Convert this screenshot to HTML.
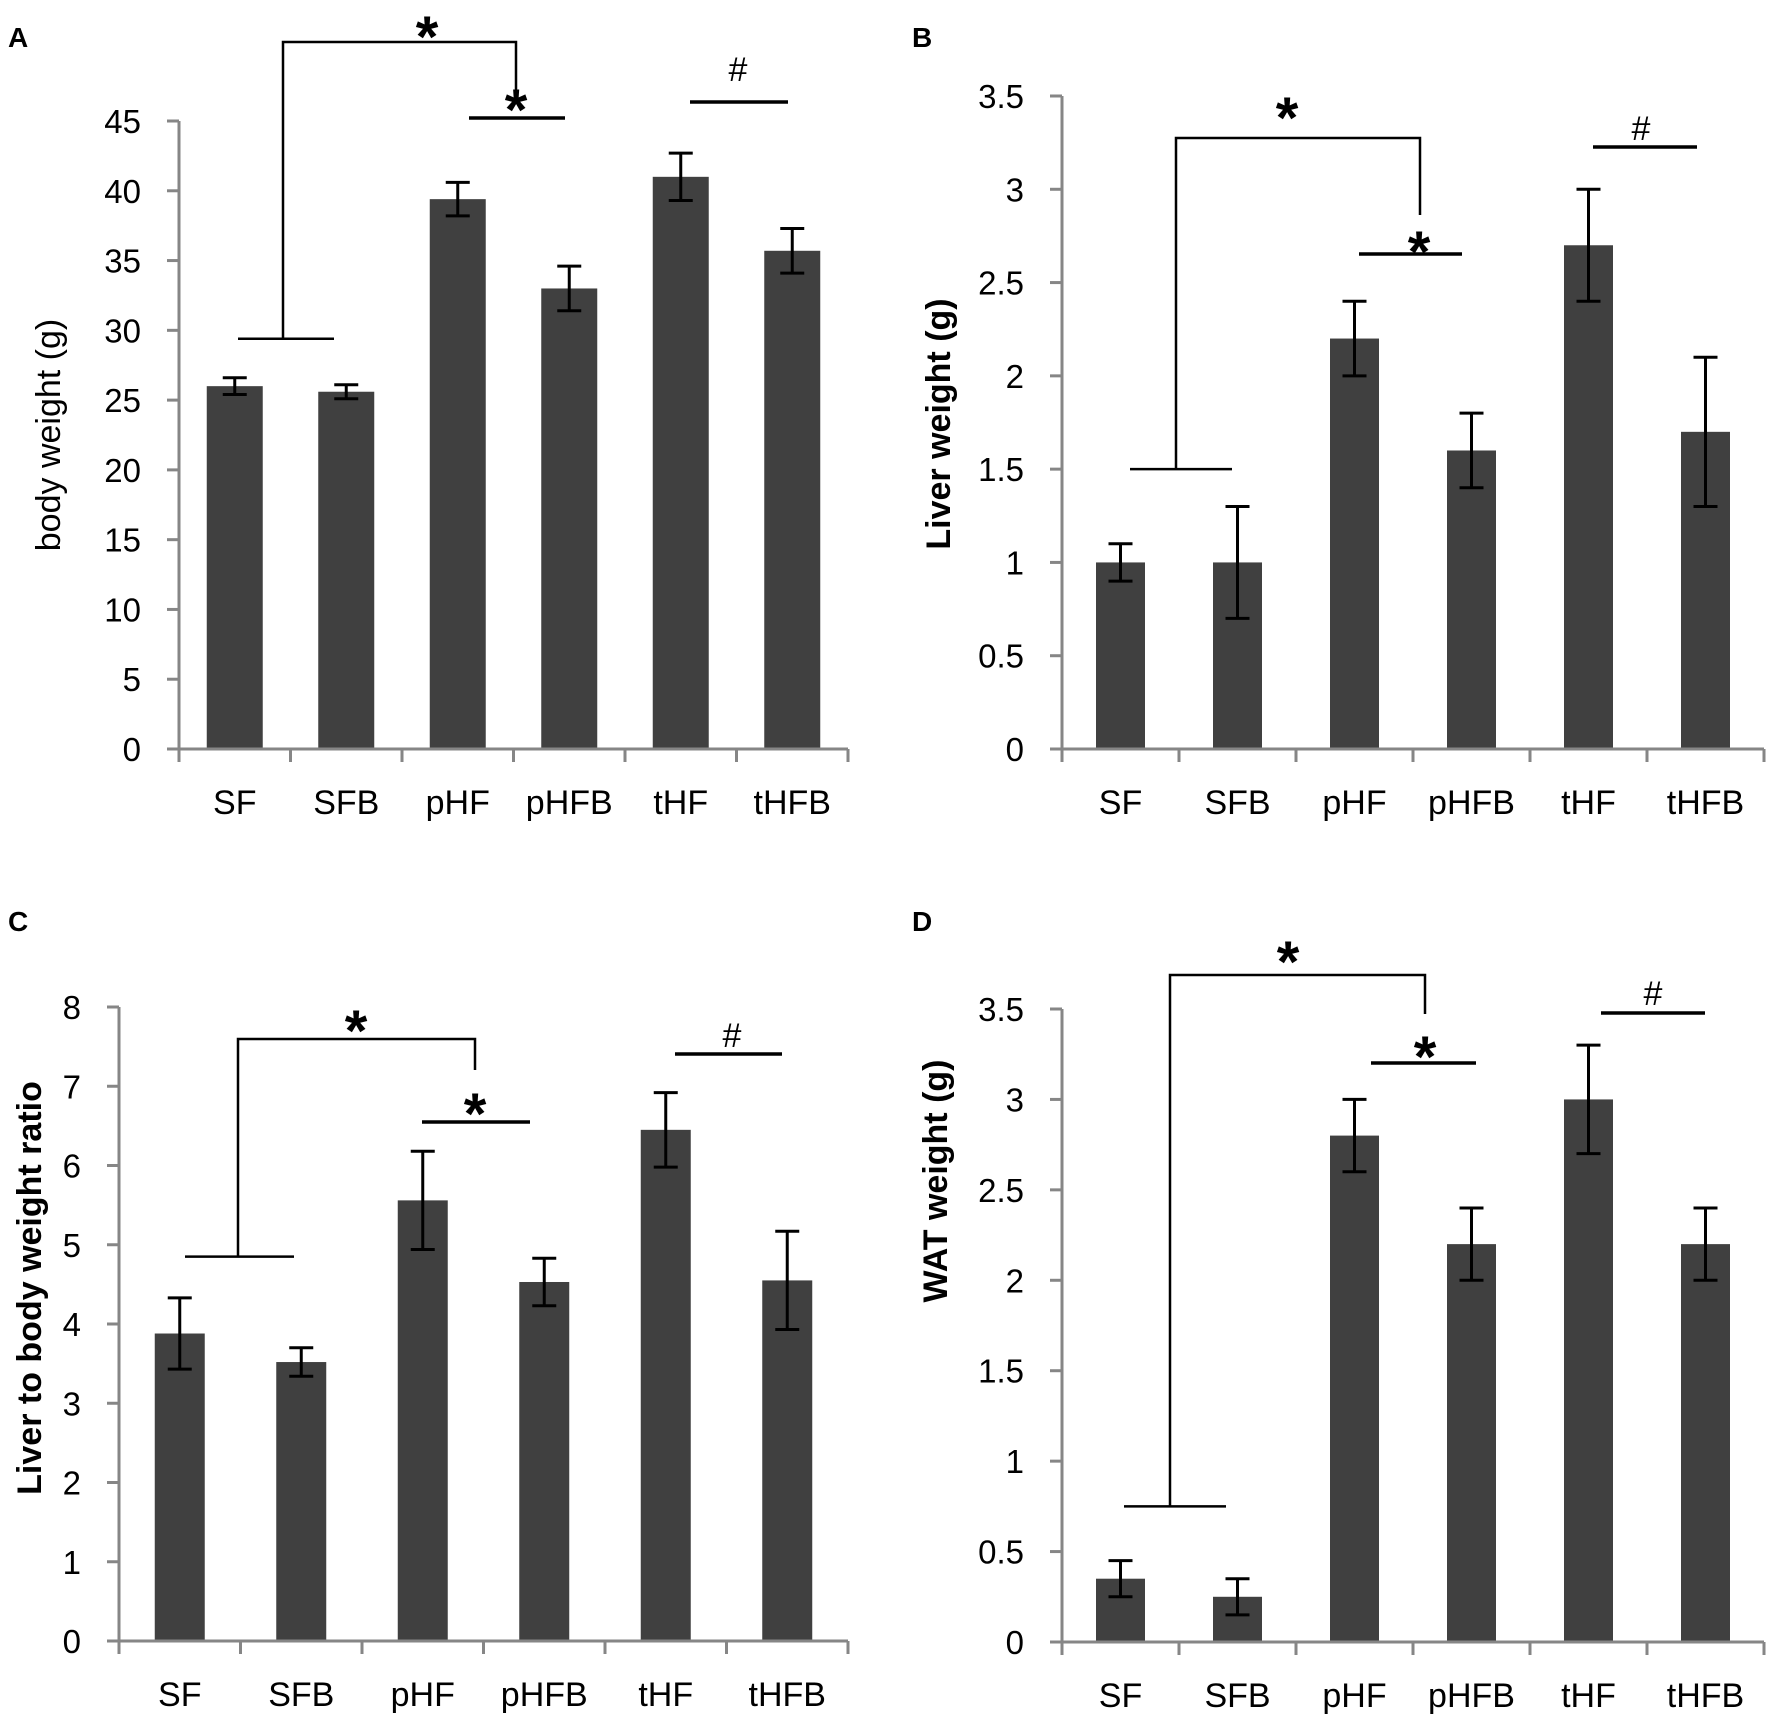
<!DOCTYPE html>
<html><head><meta charset="utf-8"><style>
html,body{margin:0;padding:0;background:#fff;}
svg{display:block;}
text{font-family:"Liberation Sans",sans-serif;fill:#000;}
</style></head><body>
<svg id="fig" width="1772" height="1720" viewBox="0 0 1772 1720" xmlns="http://www.w3.org/2000/svg"></svg>
<script>
const categories = ["SF","SFB","pHF","pHFB","tHF","tHFB"];
const valuesA = [26, 25.6, 39.4, 33, 41, 35.7];
const errorsA = [0.6, 0.5, 1.2, 1.6, 1.7, 1.6];
const ticksA = [0,5,10,15,20,25,30,35,40,45];
const valuesB = [1, 1, 2.2, 1.6, 2.7, 1.7];
const errorsB = [0.1, 0.3, 0.2, 0.2, 0.3, 0.4];
const ticksB = [0,0.5,1,1.5,2,2.5,3,3.5];
const valuesC = [3.88, 3.52, 5.56, 4.53, 6.45, 4.55];
const errorsC = [0.45, 0.18, 0.62, 0.3, 0.47, 0.62];
const ticksC = [0,1,2,3,4,5,6,7,8];
const valuesD = [0.35, 0.25, 2.8, 2.2, 3.0, 2.2];
const errorsD = [0.1, 0.1, 0.2, 0.2, 0.3, 0.2];
const ticksD = [0,0.5,1,1.5,2,2.5,3,3.5];

const NS = "http://www.w3.org/2000/svg";
const svg = document.getElementById("fig");
function mk(tag, attrs, parent, txt){
  const e = document.createElementNS(NS, tag);
  for (const k in attrs) e.setAttribute(k, attrs[k]);
  if (txt !== undefined) e.textContent = txt;
  (parent || svg).appendChild(e);
  return e;
}

function panel(p){
  const g = mk("g", {});
  
  
  const max = p.ticks[p.ticks.length-1];
  const y = v => p.y0 - (v / max) * (p.y0 - p.yTop);
  const cw = (p.x1 - p.x0) / p.cats.length;
  const xc = i => p.x0 + cw * (i + 0.5);

  const lab = mk("text", {x:p.lx, y:p.ly, "font-size":28, "font-weight":"bold"}, g, p.id);
  
  

  p.vals.forEach((v,i)=>{
    const r = mk("rect", {x:xc(i)-p.bw/2, y:y(v), width:p.bw, height:p.y0-y(v), fill:"#404040"}, g);
    
    
  });
  const ya = mk("line", {x1:p.x0, y1:p.yTop, x2:p.x0, y2:p.y0+13, stroke:"#868686", "stroke-width":3}, g);
  
  
  const xa = mk("line", {x1:p.x0-12, y1:p.y0, x2:p.x1, y2:p.y0, stroke:"#868686", "stroke-width":3}, g);
  
  
  p.ticks.forEach(t=>{
    mk("line", {x1:p.x0-12, y1:y(t), x2:p.x0, y2:y(t), stroke:"#868686", "stroke-width":3}, g);
    const tl = mk("text", {x:p.x0-38, y:y(t)+12, "font-size":33, "text-anchor":"end"}, g, String(t));
    
    
  });
  for (let i=0;i<=p.cats.length;i++){
    const xx = p.x0 + cw*i;
    mk("line", {x1:xx, y1:p.y0, x2:xx, y2:p.y0+13, stroke:"#868686", "stroke-width":3}, g);
  }
  p.cats.forEach((c,i)=>{
    const t = mk("text", {x:xc(i), y:p.y0+65, "font-size":34, "text-anchor":"middle"}, g, c);
    
    
  });
  p.vals.forEach((v,i)=>{
    const e = p.errs[i], cx = xc(i);
    const eg = mk("g", {stroke:"#000", "stroke-width":3}, g);
    
    
    mk("line", {x1:cx, y1:y(v+e), x2:cx, y2:y(v-e)}, eg);
    mk("line", {x1:cx-12, y1:y(v+e), x2:cx+12, y2:y(v+e)}, eg);
    mk("line", {x1:cx-12, y1:y(v-e), x2:cx+12, y2:y(v-e)}, eg);
  });
  const yt = mk("text", {x:p.tx, y:p.ty, "font-size":34, "font-weight":p.bold?"bold":"normal", "text-anchor":"middle", transform:`rotate(-90 ${p.tx} ${p.ty})`, "dominant-baseline":"middle"}, g, p.title);
  
  
  const s = p.sig;
  const an = mk("g", {stroke:"#000", "stroke-width":2.5, fill:"none"}, g);
  
  
  const by = y(s.bottomVal);
  mk("polyline", {points:`${s.bx0},${by} ${s.bx1},${by}`}, an);
  mk("polyline", {points:`${s.vx},${by} ${s.vx},${s.top} ${s.rx},${s.top} ${s.rx},${s.down}`}, an);
  mk("line", {x1:s.l2x0, y1:s.l2y, x2:s.l2x1, y2:s.l2y, "stroke-width":3.5}, an);
  mk("line", {x1:s.l3x0, y1:s.l3y, x2:s.l3x1, y2:s.l3y, "stroke-width":3.5}, an);
  const st1 = mk("text", {x:s.s1x, y:s.s1y+34, "font-size":58, "font-weight":"bold", "text-anchor":"middle"}, g, "*");
  
  
  const st2 = mk("text", {x:s.s2x, y:s.s2y+34, "font-size":58, "font-weight":"bold", "text-anchor":"middle"}, g, "*");
  
  
  const hs = mk("text", {x:s.hx, y:s.hy+13, "font-size":34, "text-anchor":"middle"}, g, "#");
  
  
}

panel({id:"A", cats:categories, vals:valuesA, errs:errorsA, ticks:ticksA,
  x0:179, x1:848, y0:749, yTop:121, bw:56, lx:8, ly:47,
  title:"body weight (g)", bold:false, tx:51, ty:435,
  sig:{bottomVal:29.4, bx0:238, bx1:334, vx:283, top:42, rx:516, down:100,
       l2x0:469, l2x1:565, l2y:118, l3x0:690, l3x1:788, l3y:102,
       s1x:427, s1y:23, s2x:516, s2y:96, hx:738, hy:68}});
panel({id:"B", cats:categories, vals:valuesB, errs:errorsB, ticks:ticksB,
  x0:1062, x1:1764, y0:749, yTop:96, bw:49, lx:912, ly:47,
  title:"Liver weight (g)", bold:true, tx:941, ty:424,
  sig:{bottomVal:1.5, bx0:1130, bx1:1232, vx:1176, top:138, rx:1420, down:215,
       l2x0:1359, l2x1:1462, l2y:254, l3x0:1593, l3x1:1697, l3y:147,
       s1x:1287, s1y:104, s2x:1419, s2y:238, hx:1641, hy:127}});
panel({id:"C", cats:categories, vals:valuesC, errs:errorsC, ticks:ticksC,
  x0:119, x1:848, y0:1641, yTop:1007, bw:50, lx:8, ly:931,
  title:"Liver to body weight ratio", bold:true, tx:32, ty:1288,
  sig:{bottomVal:4.85, bx0:185, bx1:294, vx:238, top:1039, rx:475, down:1070,
       l2x0:422, l2x1:530, l2y:1122, l3x0:675, l3x1:782, l3y:1054,
       s1x:356, s1y:1017, s2x:475, s2y:1100, hx:732, hy:1034}});
panel({id:"D", cats:categories, vals:valuesD, errs:errorsD, ticks:ticksD,
  x0:1062, x1:1764, y0:1642, yTop:1009, bw:49, lx:912, ly:931,
  title:"WAT weight (g)", bold:true, tx:938, ty:1181,
  sig:{bottomVal:0.75, bx0:1124, bx1:1226, vx:1170, top:975, rx:1425, down:1014,
       l2x0:1371, l2x1:1476, l2y:1063, l3x0:1601, l3x1:1705, l3y:1013,
       s1x:1288, s1y:948, s2x:1425, s2y:1043, hx:1653, hy:992}});
</script>
</body></html>
